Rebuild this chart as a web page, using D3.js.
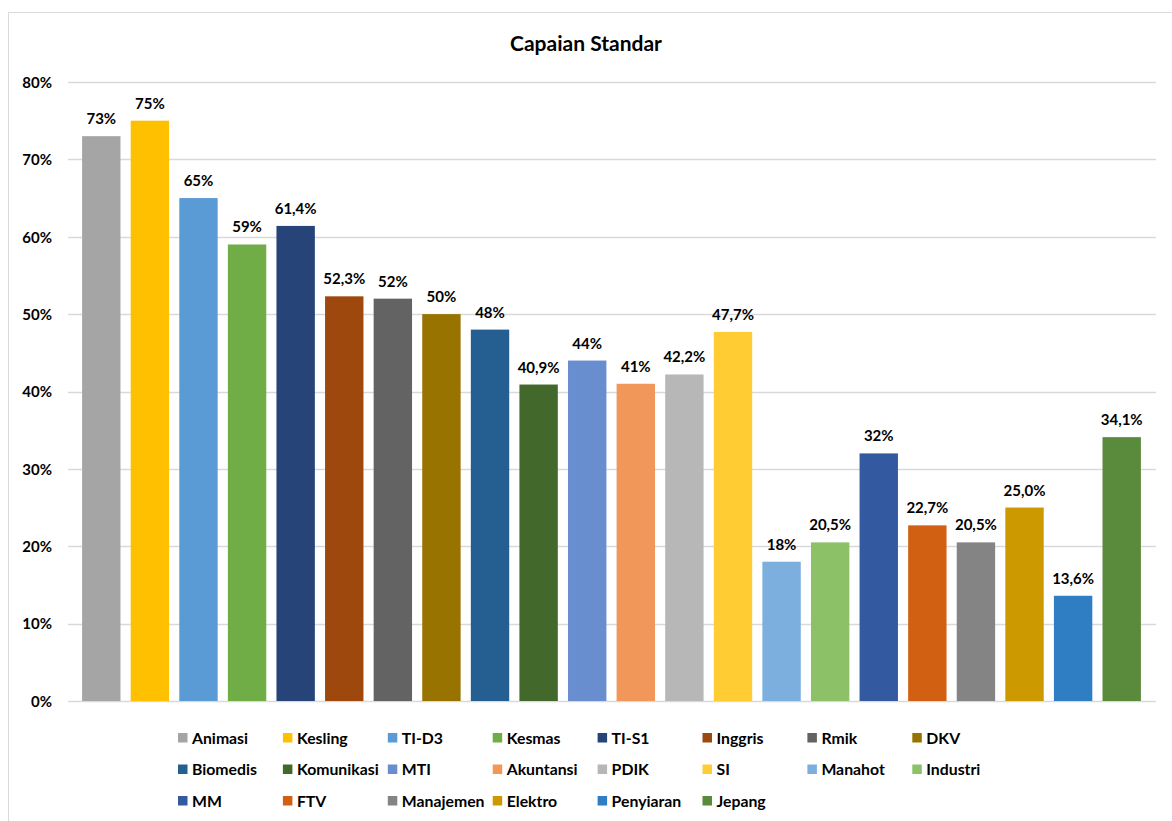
<!DOCTYPE html>
<html>
<head>
<meta charset="utf-8">
<title>Capaian Standar</title>
<script src="https://cdn.jsdelivr.net/npm/d3@7"></script>
<style>
  body { margin: 0; background: #fff; }
  svg text { font-family: Lato, "Open Sans", sans-serif; font-weight: bold; fill: #000; }
</style>
</head>
<body>
<svg id="vis" width="1172" height="821"></svg>
<script>
// data
var categories = ["Animasi","Kesling","TI-D3","Kesmas","TI-S1","Inggris","Rmik","DKV",
  "Biomedis","Komunikasi","MTI","Akuntansi","PDIK","SI","Manahot","Industri",
  "MM","FTV","Manajemen","Elektro","Penyiaran","Jepang"];
var values = [73, 75, 65, 59, 61.4, 52.3, 52, 50, 48, 40.9, 44, 41, 42.2, 47.7, 18, 20.5, 32, 22.7, 20.5, 25.0, 13.6, 34.1];
var labels = ["73%","75%","65%","59%","61,4%","52,3%","52%","50%","48%","40,9%","44%","41%","42,2%","47,7%",
  "18%","20,5%","32%","22,7%","20,5%","25,0%","13,6%","34,1%"];
var colors = ["#A5A5A5","#FFC000","#5B9BD5","#70AD47","#264478","#9E480E","#636363","#997300",
  "#255E91","#43682B","#698ED0","#F1975A","#B7B7B7","#FFCD33","#7CAFDD","#8CC168",
  "#335AA1","#D26012","#848484","#CC9A00","#2F7DC3","#5A8A3B"];
var yTicks = [0, 10, 20, 30, 40, 50, 60, 70, 80];

var svg = d3.select("#vis");

// outer border
svg.append("rect").attr("x", 8.5).attr("y", 12.5).attr("width", 1175).attr("height", 830)
  .attr("fill", "none").attr("stroke", "#D9D9D9");

svg.append("text").attr("x", 586).attr("y", 51).attr("text-anchor", "middle")
  .style("font-size", "21px").text("Capaian Standar");

var x = d3.scaleBand().domain(categories).range([77, 1146]).paddingInner(0.21).paddingOuter(0.105);
var y = d3.scaleLinear().domain([0, 80]).range([701, 82]);

// grid
svg.append("g").selectAll("line").data(yTicks).enter().append("line")
  .attr("x1", 68).attr("x2", 1156)
  .attr("y1", function(d){ return Math.round(y(d)) + 0.5; })
  .attr("y2", function(d){ return Math.round(y(d)) + 0.5; })
  .attr("stroke", "#D9D9D9").attr("stroke-width", 1.3);

var yAxis = d3.axisLeft(y).tickValues(yTicks).tickSize(0).tickPadding(0)
  .tickFormat(function(d){ return d + "%"; });
var ga = svg.append("g").attr("transform", "translate(52,0)").call(yAxis);
ga.select(".domain").remove();
ga.selectAll("text").style("font-size", "15px").attr("dy", "0.35em");

// bars
svg.append("g").selectAll("rect").data(values).enter().append("rect")
  .attr("x", function(d, i){ return x(categories[i]); })
  .attr("width", x.bandwidth())
  .attr("y", function(d){ return y(d); })
  .attr("height", function(d){ return y(0) - y(d); })
  .attr("fill", function(d, i){ return colors[i]; });

// value labels
svg.append("g").selectAll("text").data(values).enter().append("text")
  .attr("x", function(d, i){ return x(categories[i]) + x.bandwidth() / 2; })
  .attr("y", function(d){ return y(d) - 12; })
  .attr("text-anchor", "middle").style("font-size", "15px")
  .text(function(d, i){ return labels[i]; });

// legend: 8 columns, 3 rows
var lg = svg.append("g").selectAll("g").data(categories).enter().append("g")
  .attr("transform", function(d, i){
    return "translate(" + (178 + (i % 8) * 104.9) + "," + (738 + Math.floor(i / 8) * 31.5) + ")";
  });
lg.append("rect").attr("x", 0).attr("y", -5).attr("width", 9.5).attr("height", 9.5)
  .attr("fill", function(d, i){ return colors[i]; });
lg.append("text").attr("x", 14).attr("y", 0).attr("dy", "0.35em")
  .style("font-size", "15.8px").text(function(d){ return d; });
</script>
</body>
</html>
